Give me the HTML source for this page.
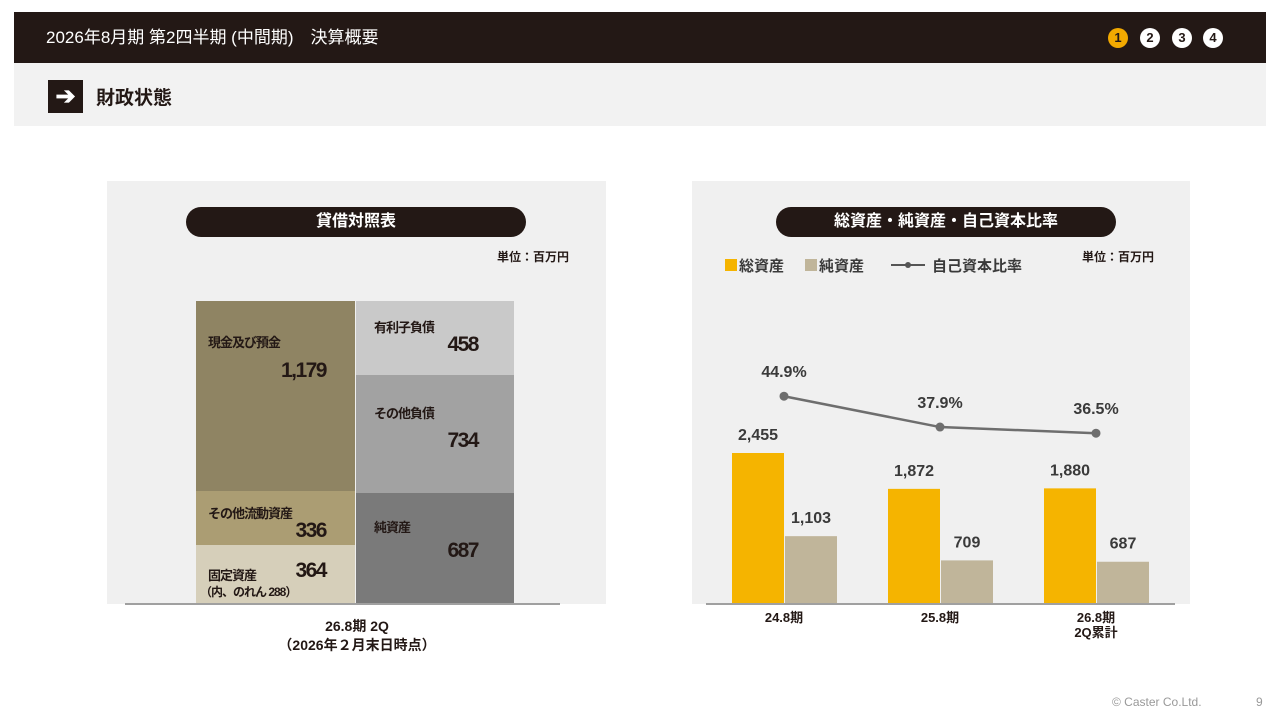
<!DOCTYPE html>
<html><head><meta charset="utf-8">
<style>
*{margin:0;padding:0;box-sizing:border-box}
body{width:1280px;height:720px;background:#fff;font-family:"Liberation Sans","Noto Sans CJK JP",sans-serif;position:relative;overflow:hidden}
.abs{position:absolute}
.hdr{left:14px;top:12px;width:1252px;height:51px;background:#231815;color:#fff;font-size:17px;line-height:51px;padding-left:32px}
.num{width:20px;height:20px;border-radius:50%;top:28px;font-size:13px;font-weight:bold;text-align:center;line-height:20px;background:#fff;color:#231815}
.sub{left:14px;top:63px;width:1252px;height:63px;background:#f2f2f2}
.panel{background:#f0f0f0;top:181px;height:423px}
.pill{background:#231815;color:#fff;font-weight:bold;font-size:16px;text-align:center;border-radius:15px;height:30px;line-height:30px;top:207px}
.unit{font-size:12px;font-weight:bold;color:#231815}
.seg{position:absolute;color:#231815;font-weight:bold}
.seg .l{position:absolute;font-size:13px;letter-spacing:-1px}
.seg .v{position:absolute;font-size:21px;letter-spacing:-1.5px}
</style></head><body>
<div class="abs hdr">2026年8月期 第2四半期 (中間期)　決算概要</div>
<div class="abs num" style="left:1108px;background:#f2a900;color:#231815">1</div>
<div class="abs num" style="left:1140px">2</div>
<div class="abs num" style="left:1172px">3</div>
<div class="abs num" style="left:1203px">4</div>
<div class="abs sub"></div>
<div class="abs" style="left:48px;top:80px;width:35px;height:33px;background:#231815;color:#fff;font-size:24px;text-align:center;line-height:33px;font-weight:bold">➔</div>
<div class="abs" style="left:96px;top:83px;font-size:19px;font-weight:bold;color:#231815">財政状態</div>

<div class="abs panel" style="left:107px;width:499px"></div>
<div class="abs pill" style="left:186px;width:340px">貸借対照表</div>
<div class="abs unit" style="left:497px;top:248px">単位：百万円</div>
<div id="bs"></div>
<div class="abs" style="left:125px;top:603px;width:435px;height:2px;background:#a0a0a0"></div>
<div class="abs" style="left:257px;top:617px;width:200px;text-align:center;font-size:14px;font-weight:bold;color:#231815;line-height:19px">26.8期 2Q<br>（2026年２月末日時点）</div>

<div class="abs panel" style="left:692px;width:498px"></div>
<div class="abs pill" style="left:776px;width:340px">総資産・純資産・自己資本比率</div>
<div class="abs unit" style="left:1082px;top:248px">単位：百万円</div>
<svg class="abs" style="left:0;top:0" width="1280" height="720" id="chart"></svg>

<div class="abs" style="left:1112px;top:695px;font-size:12px;color:#999">© Caster Co.Ltd.</div>
<div class="abs" style="left:1256px;top:695px;font-size:12px;color:#999">9</div>

<script>
// Balance sheet data
const bsAssetLabels=["現金及び預金","その他流動資産","固定資産"];
const bsAssetValues=[1179,336,364];
const bsLiabLabels=["有利子負債","その他負債","純資産"];
const bsLiabValues=[458,734,687];
// Chart data
const categories=["24.8期","25.8期","26.8期\n2Q累計"];
const totalAssets=[2455,1872,1880];
const netAssets=[1103,709,687];
const equityRatio=[44.9,37.9,36.5];
const totalLabels=["2,455","1,872","1,880"];
const netLabels=["1,103","709","687"];
const ratioLabels=["44.9%","37.9%","36.5%"];

const bs=document.getElementById('bs');
const bsTop=301,bsBottom=604;
function drawStack(vals,labels,x,w,colors,names,isAsset){
  const tot=vals.reduce((a,b)=>a+b,0);
  let y=bsTop;
  vals.forEach((v,i)=>{
    const h=v/tot*(bsBottom-bsTop);
    const d=document.createElement('div');
    d.className='seg';
    
    
    d.style.cssText=`left:${x}px;top:${y}px;width:${w}px;height:${h}px;background:${colors[i]}`;
    const l=document.createElement('div');l.className='l';l.textContent=labels[i];
    const n=document.createElement('div');n.className='v';n.textContent=v.toLocaleString('en-US');
    if(isAsset){
      if(i===0){l.style.cssText='left:12px;top:31px';n.style.cssText='right:29px;top:58px';}
      else if(i===1){l.style.cssText='left:12px;top:12px';n.style.cssText='right:29px;top:28px';}
      else{l.style.cssText='left:12px;top:20px';n.style.cssText='right:29px;top:14px';
        const s=document.createElement('div');s.className='l';s.textContent='（内、のれん 288）';s.style.cssText='left:4px;top:38px;font-size:12px';d.appendChild(s);}
    } else {
      l.style.cssText='left:18px;top:'+(i===0?16:i===1?28:24)+'px';
      n.style.cssText='right:36px;top:'+(i===0?32:i===1?54:46)+'px';
    }
    d.appendChild(l);d.appendChild(n);bs.appendChild(d);
    y+=h;
  });
}
drawStack(bsAssetValues,bsAssetLabels,196,159,["#8f8463","#ab9d73","#d6cfba"],["cash-deposits-block","other-current-assets-block","fixed-assets-block"],true);
drawStack(bsLiabValues,bsLiabLabels,356,158,["#c9c9c9","#a2a2a2","#7a7a7a"],["interest-bearing-debt-block","other-liabilities-block","net-assets-block"],false);

// Chart
const svg=document.getElementById('chart');
const NS='http://www.w3.org/2000/svg';
const base=604, barScale=151/2455;
const xCenter=i=>784+i*156;
const yBar=v=>base-v*barScale;
const yRatio=v=>594-v*4.405;
function el(tag,attrs,text){const e=document.createElementNS(NS,tag);for(const k in attrs)e.setAttribute(k,attrs[k]);if(text!==undefined)e.textContent=text;svg.appendChild(e);return e;}
const tstyle={'font-family':'Liberation Sans, Noto Sans CJK JP, sans-serif','font-weight':'bold','fill':'#3a3a3a','text-anchor':'middle'};
categories.forEach((c,i)=>{
  const cx=xCenter(i);
  let r=el('rect',{x:cx-52,y:yBar(totalAssets[i]),width:52,height:base-yBar(totalAssets[i]),fill:'#f5b400'});
  
  r=el('rect',{x:cx+1,y:yBar(netAssets[i]),width:52,height:base-yBar(netAssets[i]),fill:'#c0b59a'});
  
  let t=el('text',Object.assign({x:cx-26,y:yBar(totalAssets[i])-13,'font-size':16},tstyle),totalLabels[i]);
  
  t=el('text',Object.assign({x:cx+27,y:yBar(netAssets[i])-13,'font-size':16},tstyle),netLabels[i]);
  
  c.split('\n').forEach((ln,j)=>{
    t=el('text',Object.assign({x:cx,y:622+j*15,'font-size':13},tstyle,{fill:'#231815'}),ln);
    
  });
});
let ax=el('line',{x1:706,x2:1175,y1:base,y2:base,stroke:'#a0a0a0','stroke-width':2});

const pts=equityRatio.map((v,i)=>xCenter(i)+','+yRatio(v)).join(' ');
let pl=el('polyline',{points:pts,fill:'none',stroke:'#6e6e6e','stroke-width':2.5});

equityRatio.forEach((v,i)=>{
  let c=el('circle',{cx:xCenter(i),cy:yRatio(v),r:4.5,fill:'#6e6e6e'});
  
  let t=el('text',Object.assign({x:xCenter(i),y:yRatio(v)-19,'font-size':16},tstyle),ratioLabels[i]);
  
});
// legend
let g;
g=el('rect',{x:725,y:259,width:12,height:12,fill:'#f5b400'});
g=el('text',Object.assign({x:739,y:271,'font-size':15},tstyle,{'text-anchor':'start'}),'総資産');
g=el('rect',{x:805,y:259,width:12,height:12,fill:'#c0b59a'});
g=el('text',Object.assign({x:819,y:271,'font-size':15},tstyle,{'text-anchor':'start'}),'純資産');
g=el('line',{x1:891,x2:925,y1:265,y2:265,stroke:'#555','stroke-width':2});
g=el('circle',{cx:908,cy:265,r:3,fill:'#555'});
g=el('text',Object.assign({x:932,y:271,'font-size':15},tstyle,{'text-anchor':'start'}),'自己資本比率');
</script>
</body></html>
